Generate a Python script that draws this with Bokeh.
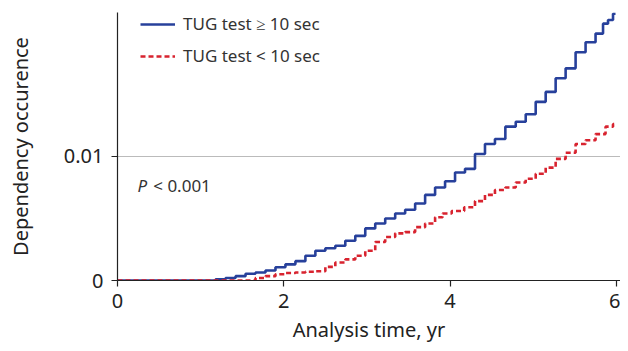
from bokeh.plotting import figure
from bokeh.models import Range1d, FixedTicker, NumeralTickFormatter, Legend, LegendItem, Label
from bokeh.embed import file_html
from bokeh.resources import INLINE

# Data (cumulative dependency occurrence)
t_slow = [0.0, 1.12, 1.24, 1.36, 1.48, 1.60, 1.72, 1.84, 1.96, 2.08, 2.20, 2.32, 2.44, 2.56, 2.68,
          2.80, 2.92, 3.04, 3.16, 3.28, 3.40, 3.52, 3.64, 3.76, 3.88, 4.00, 4.12, 4.24, 4.36, 4.48,
          4.60, 4.73, 4.85, 4.97, 5.09, 5.21, 5.33, 5.45, 5.57, 5.69, 5.81, 5.87, 5.93, 5.99]
y_slow = [0.0, 0.0, 0.0001, 0.0002, 0.00035, 0.00054, 0.00065, 0.0008, 0.00107, 0.0013, 0.00156,
          0.0020, 0.0024, 0.0026, 0.0028, 0.0032, 0.0036, 0.0042, 0.0046, 0.0050, 0.0054, 0.0057,
          0.0062, 0.0069, 0.0075, 0.0080, 0.0087, 0.0090, 0.0102, 0.0110, 0.0114, 0.0124, 0.0128,
          0.0134, 0.0144, 0.0152, 0.0163, 0.0171, 0.0184, 0.0192, 0.0199, 0.0207, 0.0210, 0.0215]
t_fast = [0.0, 1.60, 1.72, 1.84, 1.96, 2.08, 2.20, 2.32, 2.44, 2.56, 2.68, 2.80, 2.92, 3.04, 3.16,
          3.28, 3.40, 3.52, 3.64, 3.76, 3.88, 3.94, 4.10, 4.24, 4.36, 4.48, 4.60, 4.73, 4.85, 4.97,
          5.09, 5.21, 5.33, 5.45, 5.57, 5.69, 5.81, 5.93, 5.99]
y_fast = [0.0, 0.0, 0.0002, 0.00035, 0.0005, 0.0006, 0.00065, 0.0007, 0.00075, 0.0011, 0.00145,
          0.0017, 0.0020, 0.0024, 0.0031, 0.0035, 0.0038, 0.0039, 0.0043, 0.0046, 0.0051, 0.0054,
          0.0056, 0.0059, 0.0064, 0.0069, 0.0073, 0.0075, 0.0079, 0.0082, 0.0086, 0.0091, 0.0098,
          0.0103, 0.0110, 0.0113, 0.0118, 0.0124, 0.0126]
labels = ["TUG test \u2265 10 sec", "TUG test < 10 sec"]
x_ticks = [0, 2, 4, 6]
y_ticks = [0, 0.01]

FONT = "Noto Sans"
BLUE = "#27409b"
RED = "#d8232f"

p = figure(frame_width=503, frame_height=268, output_backend="svg", toolbar_location=None,
           x_range=Range1d(0, 6.05), y_range=Range1d(0, 0.0216),
           min_border_left=117, min_border_right=0, min_border_top=12, min_border_bottom=71)
p.outline_line_color = None
p.background_fill_color = "white"

r1 = p.step(t_slow, y_slow, mode="center", line_color=BLUE, line_width=2.6)
r2 = p.step(t_fast, y_fast, mode="center", line_color=RED, line_width=2.6, line_dash="5 3")

p.xgrid.visible = False
p.ygrid.ticker = FixedTicker(ticks=[0.01])
p.ygrid.grid_line_color = "#bbbbbb"
p.ygrid.grid_line_width = 1.2

for ax in (p.xaxis[0], p.yaxis[0]):
    ax.axis_line_color = "#222222"
    ax.axis_line_width = 1.2
    ax.major_tick_line_color = "#222222"
    ax.major_tick_line_width = 1.2
    ax.major_tick_out = 6
    ax.major_tick_in = 0
    ax.minor_tick_line_color = None
    ax.major_label_text_font = FONT
    ax.major_label_text_font_size = "20px"
    ax.major_label_text_color = "#222222"
    ax.axis_label_text_font = FONT
    ax.axis_label_text_font_size = "20px"
    ax.axis_label_text_font_style = "normal"
    ax.axis_label_text_color = "#222222"

p.xaxis.ticker = FixedTicker(ticks=x_ticks)
p.yaxis.ticker = FixedTicker(ticks=y_ticks)
p.yaxis.formatter = NumeralTickFormatter(format="0.[00]")
p.xaxis.axis_label = "Analysis time, yr"
p.yaxis.axis_label = "Dependency occurence"
p.xaxis.major_label_standoff = 7
p.xaxis.axis_label_standoff = 5
p.yaxis.major_label_standoff = 8
p.yaxis.axis_label_standoff = 27

legend = Legend(items=[LegendItem(label=labels[0], renderers=[r1]),
                       LegendItem(label=labels[1], renderers=[r2])],
                location=(23, 213), padding=0, margin=0, spacing=9,
                glyph_width=35, glyph_height=20, label_height=20, label_standoff=8,
                label_text_font=FONT, label_text_font_size="17px", label_text_color="#333333",
                border_line_color=None, background_fill_alpha=0)
p.add_layout(legend)

p.add_layout(Label(x=0.24, y=0.00766, text="P", text_font=FONT, text_font_style="italic",
                   text_font_size="17px", text_color="#333333", text_baseline="middle"))
p.add_layout(Label(x=0.43, y=0.00766, text="< 0.001", text_font=FONT,
                   text_font_size="17px", text_color="#333333", text_baseline="middle"))

open("out.html", "w").write(file_html(p, INLINE))
